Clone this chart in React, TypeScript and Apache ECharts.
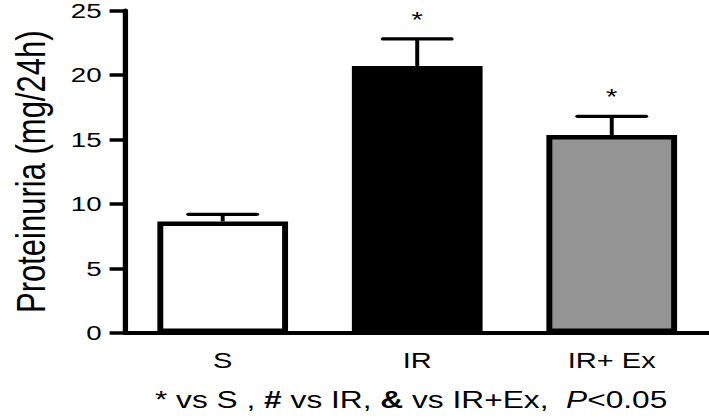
import React, { useEffect, useRef } from "react";
import * as echarts from "echarts";

const categories = ["S", "IR", "IR+ Ex"];
const means = [8.65, 20.7, 15.35];
const sems = [0.55, 2.1, 1.45];
const marks = ["", "*", "*"];
const barColors = ["#ffffff", "#000000", "#949494"];
const yTicks = [0, 5, 10, 15, 20, 25];
const yAxisName = "Proteinuria (mg/24h)";

const FONT = '"Liberation Sans", Arial, Helvetica, sans-serif';
const STRETCH = 1.3203;
const W = 537;
const H = 420;

export default function App() {
  const ref = useRef<HTMLDivElement>(null);
  useEffect(() => {
    if (!ref.current) return;
    const chart = echarts.init(ref.current, undefined, { renderer: "svg", width: W, height: H });
    chart.setOption({
      animation: false,
      backgroundColor: "#ffffff",
      grid: { left: 86, right: 0, top: 10, bottom: 87 },
      xAxis: {
        type: "category",
        data: categories,
        boundaryGap: true,
        axisLine: { lineStyle: { color: "#000", width: 4 } },
        axisTick: { alignWithLabel: true, length: 10, lineStyle: { color: "#000", width: 3 } },
        axisLabel: { color: "#000", fontSize: 22, fontFamily: FONT, margin: 16 },
      },
      yAxis: {
        type: "value",
        min: yTicks[0],
        max: yTicks[yTicks.length - 1],
        interval: 5,
        name: yAxisName,
        nameLocation: "middle",
        nameRotate: 90,
        nameGap: 56,
        nameTextStyle: { color: "#000", fontSize: 31, fontFamily: FONT },
        axisLine: { show: true, lineStyle: { color: "#000", width: 4 } },
        axisTick: { show: true, length: 12, lineStyle: { color: "#000", width: 3.5 } },
        axisLabel: { color: "#000", fontSize: 21, fontFamily: FONT, margin: 18 },
        splitLine: { show: false },
      },
      series: [
        {
          type: "bar",
          barWidth: 99,
          data: means.map((v, i) => ({
            value: v,
            itemStyle: { color: barColors[i], borderColor: "#000", borderWidth: 4.5 },
          })),
          z: 2,
        },
        {
          type: "custom",
          z: 3,
          data: categories.map((c, i) => [i, means[i], sems[i]]),
          renderItem: (params: any, api: any) => {
            const i = api.value(0);
            const m = api.value(1);
            const e = api.value(2);
            const base = api.coord([i, m]);
            const top = api.coord([i, m + e]);
            const hw = 26;
            return {
              type: "group",
              children: [
                {
                  type: "line",
                  shape: { x1: base[0], y1: base[1], x2: top[0], y2: top[1] },
                  style: { stroke: "#000", lineWidth: 3 },
                },
                {
                  type: "line",
                  shape: { x1: top[0] - hw, y1: top[1], x2: top[0] + hw, y2: top[1] },
                  style: { stroke: "#000", lineWidth: 3.2, lineCap: "round" },
                },
                {
                  type: "text",
                  x: top[0],
                  y: top[1] - 20,
                  style: {
                    text: marks[i],
                    fill: "#000",
                    fontSize: 22,
                    fontFamily: FONT,
                    align: "center",
                    verticalAlign: "middle",
                  },
                },
              ],
            };
          },
        },
      ],
      graphic: [
        {
          type: "text",
          x: 311.4,
          y: 400,
          style: {
            text: "{a|* vs S , }{b|#}{a| vs IR, }{b|&}{a| vs IR+Ex,  }{i|P}{a|<0.05}",
            align: "center",
            verticalAlign: "middle",
            rich: {
              a: { fontSize: 24, fontFamily: FONT, fill: "#000", color: "#000" },
              b: { fontSize: 24, fontFamily: FONT, fontWeight: "bold", fill: "#000", color: "#000" },
              i: { fontSize: 24, fontFamily: FONT, fontStyle: "italic", fill: "#000", color: "#000" },
            },
          },
        },
      ],
    });
    return () => chart.dispose();
  }, []);
  return (
    <div
      ref={ref}
      style={{
        position: "absolute",
        left: 0,
        top: 0,
        width: W,
        height: H,
        transform: `scaleX(${STRETCH})`,
        transformOrigin: "0 0",
      }}
    />
  );
}
